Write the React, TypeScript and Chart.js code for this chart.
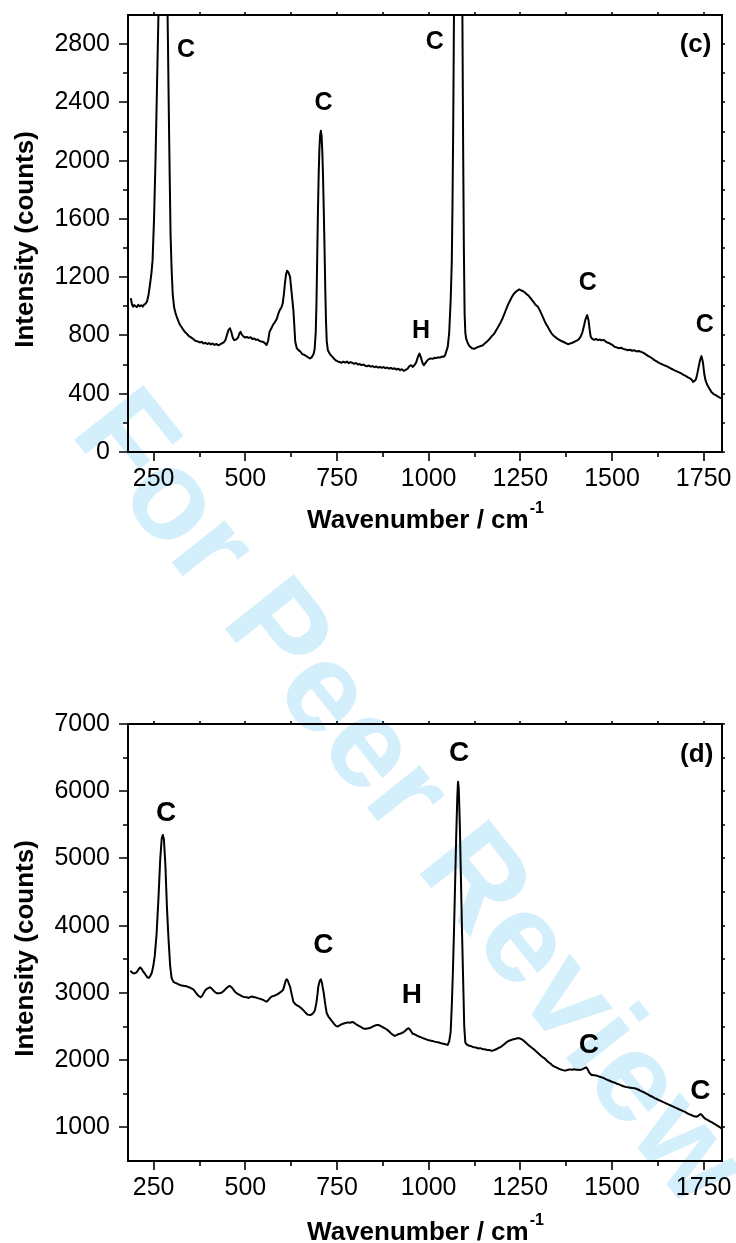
import React, { useEffect, useRef } from "react";
import { Chart, registerables } from "chart.js";

Chart.register(...registerables);

const SANS = '"Liberation Sans", Arial, Helvetica, sans-serif';
const INK = "#000000";

// ---- Raman spectrum, panel (c) ----
const shiftC = [
  188, 191, 194, 197, 200, 204, 208, 212, 216, 220,
  224, 228, 232, 236, 240, 244, 247, 251, 255, 259,
  263, 268, 272, 276, 280, 284, 288, 292, 296, 299,
  302, 306, 310, 314, 318, 322, 326, 331, 336, 341,
  346, 351, 356, 361, 366, 371, 376, 381, 386, 391,
  396, 401, 406, 411, 416, 421, 426, 431, 436, 441,
  446, 450, 454, 458, 462, 466, 470, 475, 480, 484,
  487, 490, 494, 499, 504, 509, 514, 519, 524, 529,
  534, 539, 544, 549, 554, 558, 562, 566, 571, 576,
  581, 586, 590, 594, 598, 602, 605, 608, 611, 614,
  617, 622, 626, 631, 634, 636, 640, 645, 650, 655,
  660, 665, 670, 676, 681, 686, 689, 692, 694, 696,
  698, 700, 702, 704, 706, 708, 710, 712, 714, 716,
  718, 720, 722, 725, 729,
  732, 737, 742, 747, 752, 757, 762, 767, 772, 777,
  782, 787, 792, 797, 802, 807, 812, 817, 822, 827,
  832, 837, 842, 847, 852, 857, 862, 867, 872, 877,
  882, 887, 892, 897, 902, 907, 912, 917, 922, 927,
  932, 937, 942, 947, 952, 957, 962, 966, 970, 975,
  979, 983, 987, 991, 996, 1001, 1006, 1011, 1016, 1021,
  1026, 1031, 1036, 1041, 1045, 1048, 1052, 1056, 1060, 1063,
  1065, 1067, 1069, 1072, 1076, 1080, 1084, 1088, 1092, 1094,
  1096, 1098, 1100,
  1102, 1107, 1112, 1118, 1124, 1130, 1136, 1142, 1148, 1154,
  1160, 1166, 1172, 1178, 1184, 1190, 1196, 1202, 1207, 1212,
  1217, 1222, 1227, 1232, 1237, 1242, 1247, 1252, 1257, 1262,
  1267, 1271, 1276, 1281, 1286, 1291, 1298, 1304, 1310, 1316,
  1321, 1325, 1330, 1335, 1340, 1345, 1350, 1356, 1362, 1368,
  1374, 1380, 1386, 1392, 1398, 1404, 1410, 1415, 1419, 1423,
  1427, 1432, 1436, 1439, 1442, 1447, 1452, 1457, 1462, 1467,
  1472, 1477, 1482, 1487, 1492, 1497, 1502, 1507, 1513, 1519,
  1525, 1531, 1537, 1543, 1549, 1555, 1561, 1567, 1573, 1580,
  1586, 1592, 1598, 1604, 1610, 1616, 1622, 1628, 1634, 1640,
  1646, 1653, 1659, 1665, 1671, 1677, 1683, 1689, 1695, 1701,
  1707, 1713, 1718, 1721, 1725, 1729, 1732, 1736, 1740, 1744,
  1748, 1752, 1755, 1759, 1765, 1771, 1777, 1783, 1789, 1795,
  1800,
];
const countsC = [
  1050, 1012, 998, 1008, 1002, 995, 1010, 1000, 1008, 998,
  1012, 1018, 1035, 1080, 1150, 1230, 1317, 1600, 2000, 2500,
  3000, 3700, 4200, 4400, 4200, 3700, 3000, 2200, 1500, 1250,
  1080, 990, 950, 920, 895, 872, 858, 838, 822, 810,
  796, 788, 780, 768, 762, 758, 752, 756, 745, 750,
  741, 748, 738, 745, 735, 742, 733, 738, 745, 752,
  770, 805, 838, 850, 822, 782, 768, 772, 785, 815,
  825, 808, 795, 786, 790, 783, 788, 776, 779, 770,
  772, 762, 758, 756, 745, 735, 762, 825, 850, 875,
  893, 915, 950, 975, 990, 1020, 1080, 1157, 1220, 1244,
  1235, 1203, 1100, 974, 850, 760, 715, 699, 690, 672,
  668, 660, 652, 642, 650, 672, 705, 820, 1020, 1330,
  1650, 1900, 2080, 2175, 2205, 2170, 2060, 1880, 1650, 1400,
  1120, 900, 760, 700, 680,
  668, 655, 640, 628, 622, 618, 612, 620, 614, 621,
  610, 617, 612, 606, 611, 600, 604, 596, 601, 592,
  588, 594, 586, 590, 582, 587, 580, 584, 578, 583,
  575, 580, 572, 578, 570, 575, 566, 572, 562, 568,
  557, 563, 570, 588, 596, 584, 600, 615, 648, 676,
  648, 612, 596, 610, 628, 638, 642, 640, 647, 645,
  650, 648, 655, 653, 665, 690, 722, 820, 1043, 1300,
  1700, 2250, 3000, 5000, 8000, 9000, 8000, 5200, 3000, 2100,
  1400, 950, 820,
  780, 745, 725, 712, 708, 716, 722, 728, 733, 748,
  760, 776, 795, 810, 835, 862, 888, 920, 951, 985,
  1015, 1040, 1065, 1085, 1098, 1108, 1116, 1110, 1104, 1096,
  1084, 1077, 1062, 1046, 1030, 1012, 997, 968, 935, 900,
  875, 859, 835, 815, 800, 790, 780, 770, 762, 755,
  748, 740, 745, 750, 757, 765, 775, 795, 820, 859,
  905, 940, 905, 840, 790, 775, 770, 776, 768, 772,
  766, 770, 760, 752, 748, 740, 733, 722, 718, 712,
  716, 708, 704, 699, 702, 695, 698, 690, 693, 687,
  680, 670, 660, 652, 642, 630, 622, 612, 605, 598,
  592, 584, 575, 568, 560, 553, 547, 539, 530, 522,
  512, 505, 495, 481, 488, 500, 530, 580, 630, 658,
  615, 530, 493, 465, 438, 412, 398, 390, 380, 372,
  367,
];

// ---- Raman spectrum, panel (d) ----
const shiftD = [
  188, 192, 196, 200, 204, 208, 213, 217, 221, 225,
  229, 233, 237, 241, 245, 249, 253, 258, 263, 268,
  272, 275, 278, 282, 286, 290, 295, 299, 304, 309,
  314, 319, 324, 329, 334, 339, 344, 349, 354, 359,
  364, 369, 374, 378, 382, 386, 390, 395, 400, 404,
  409, 414, 419, 424, 429, 434, 439, 444, 449, 454,
  458, 463, 468, 473, 478, 483, 488, 493, 498, 504,
  509, 514, 519, 524, 529, 534, 539, 544, 549, 554,
  558, 563, 568, 573, 578, 583, 588, 593, 598, 603,
  607, 610, 613, 616, 619, 622, 626, 631, 636, 641,
  646, 651, 656, 661, 666, 671, 676, 681, 686, 690,
  694, 697, 699, 703, 706, 709, 711, 714, 718, 722,
  727, 732, 737, 742, 747, 751, 756, 761, 766, 771,
  776, 781, 786, 791, 796, 801, 806, 811, 816, 821,
  826, 831, 836, 841, 846, 851, 856, 862, 867, 872,
  877, 882, 887, 892, 897, 902, 907, 912, 917, 922,
  927, 932, 937, 941, 945, 949, 953, 957, 962, 967,
  972, 977, 982, 987, 992, 998, 1004, 1010, 1016, 1022,
  1028, 1034, 1040, 1046, 1052, 1056, 1060, 1063, 1066, 1069,
  1072, 1075, 1078, 1080, 1082, 1085, 1088, 1091, 1094, 1097,
  1100, 1105, 1111, 1117, 1123, 1129, 1135, 1141, 1147, 1152,
  1158, 1164, 1170, 1175, 1181, 1187, 1193, 1198, 1204, 1210,
  1216, 1221, 1225, 1231, 1237, 1243, 1248, 1253, 1258, 1263,
  1268, 1273, 1278, 1283, 1289, 1295, 1301, 1307, 1312, 1316,
  1321, 1327, 1333, 1338, 1343, 1349, 1355, 1361, 1366, 1371,
  1376, 1381, 1386, 1391, 1396, 1401, 1406, 1411, 1416, 1421,
  1426, 1430, 1434, 1438, 1444, 1450, 1456, 1462, 1467, 1471,
  1477, 1483, 1489, 1495, 1501, 1507, 1513, 1519, 1525, 1531,
  1537, 1543, 1549, 1555, 1562, 1568, 1574, 1580, 1586, 1592,
  1598, 1604, 1610, 1616, 1622, 1628, 1634, 1640, 1646, 1652,
  1658, 1664, 1670, 1676, 1682, 1688, 1694, 1698, 1704, 1710,
  1716, 1722, 1727, 1731, 1735, 1739, 1742, 1746, 1750, 1753,
  1758, 1764, 1770, 1776, 1780, 1786, 1792, 1798, 1800,
];
const countsD = [
  3320, 3300, 3290, 3296, 3310, 3345, 3380, 3360, 3320, 3295,
  3260, 3230, 3225, 3255, 3300, 3400, 3550, 3880, 4400, 5000,
  5300, 5350, 5280, 4900, 4300, 3850, 3400, 3220, 3165, 3150,
  3140, 3125, 3115, 3108, 3104, 3100, 3088, 3080, 3065, 3050,
  3010, 2975, 2950, 2936, 2955, 2995, 3034, 3060, 3075, 3084,
  3060, 3030, 3005, 2992, 2995, 3000, 3020, 3045, 3075, 3095,
  3104, 3080, 3045, 3010, 2990, 2975, 2960, 2945, 2938, 2936,
  2925, 2940, 2948, 2936, 2932, 2922, 2915, 2905, 2896, 2878,
  2870, 2895, 2930, 2950, 2955, 2968, 2980, 3000, 3020, 3045,
  3120, 3180, 3204, 3180, 3130, 3094, 2990, 2870, 2835, 2815,
  2800, 2780, 2755, 2725, 2695, 2675, 2672, 2680, 2705, 2747,
  2860, 2990, 3094, 3180, 3204, 3150, 3080, 2995, 2830, 2698,
  2645, 2610, 2575, 2540, 2510, 2500, 2515, 2530, 2542, 2550,
  2558, 2562, 2555, 2568, 2560, 2538, 2520, 2505, 2490, 2474,
  2465, 2470, 2474, 2482, 2495, 2508, 2520, 2524, 2515, 2500,
  2482, 2470, 2450, 2428, 2400, 2380, 2360, 2372, 2385, 2392,
  2405, 2418, 2440, 2465, 2474, 2455, 2420, 2390, 2385, 2370,
  2355, 2345, 2332, 2322, 2312, 2300, 2292, 2285, 2276, 2268,
  2262, 2251, 2245, 2236, 2226, 2280, 2420, 2800, 3300, 3900,
  4600, 5300, 5900, 6140, 6050, 5500, 4700, 3900, 3200, 2500,
  2260, 2228, 2215, 2205, 2192, 2188, 2175, 2178, 2165, 2162,
  2155, 2150, 2142, 2141, 2155, 2170, 2188, 2201, 2228, 2255,
  2280, 2292, 2300, 2310, 2318, 2328, 2325, 2312, 2295, 2270,
  2245, 2220, 2200, 2178, 2152, 2120, 2090, 2060, 2040, 2028,
  2000, 1970, 1945, 1920, 1903, 1888, 1872, 1860, 1852, 1844,
  1850, 1858, 1862, 1856, 1864, 1860, 1858, 1854, 1858, 1870,
  1885, 1894, 1860, 1815, 1780, 1776, 1772, 1762, 1752, 1745,
  1735, 1718, 1704, 1690, 1676, 1665, 1650, 1640, 1626, 1612,
  1602, 1596, 1590, 1586, 1582, 1570, 1556, 1540, 1525, 1506,
  1490, 1470, 1456, 1436, 1422, 1406, 1392, 1376, 1362, 1346,
  1332, 1316, 1302, 1286, 1270, 1256, 1242, 1234, 1214, 1198,
  1184, 1170, 1162, 1159, 1170, 1190, 1199, 1180, 1150, 1135,
  1118, 1100, 1082, 1064, 1050, 1030, 1010, 987, 982,
];

// ---- Axis ticks (cm-1 and counts) ----
const xMajor = [250, 500, 750, 1000, 1250, 1500, 1750];
const xMinor = [375, 625, 875, 1125, 1375, 1625];
const yMajorC = [0, 400, 800, 1200, 1600, 2000, 2400, 2800];
const yMinorC = [200, 600, 1000, 1400, 1800, 2200, 2600];
const yMajorD = [1000, 2000, 3000, 4000, 5000, 6000, 7000];
const yMinorD = [1500, 2500, 3500, 4500, 5500, 6500];

// ---- Band assignments (C / H) and panel tags ----
const bandTextC = ["C", "C", "C", "H", "C", "C", "(c)"];
const bandXC = [338, 713, 1017, 979, 1434, 1753, 1728];
const bandYC = [2761, 2393, 2812, 827, 1157, 871, 2795];
const bandTextD = ["C", "C", "C", "H", "C", "C", "(d)"];
const bandXD = [284, 713, 1083, 954, 1437, 1741, 1731];
const bandYD = [5668, 3702, 6571, 2970, 2226, 1531, 6546];

type Panel = {
  top: number;
  height: number;
  padTop: number;
  axisH: number;
  yMin: number;
  yMax: number;
  xs: number[];
  ys: number[];
  yMajor: number[];
  yMinor: number[];
  bandText: string[];
  bandX: number[];
  bandY: number[];
  bandSize: number;
  tagSize: number;
  xTitleDrop: number;
};

const panelC: Panel = {
  top: 0,
  height: 560,
  padTop: 15,
  axisH: 108,
  yMin: 0,
  yMax: 3000,
  xs: shiftC,
  ys: countsC,
  yMajor: yMajorC,
  yMinor: yMinorC,
  bandText: bandTextC,
  bandX: bandXC,
  bandY: bandYC,
  bandSize: 25,
  tagSize: 26,
  xTitleDrop: 76,
};

const panelD: Panel = {
  top: 600,
  height: 643,
  padTop: 124,
  axisH: 82,
  yMin: 500,
  yMax: 7000,
  xs: shiftD,
  ys: countsD,
  yMajor: yMajorD,
  yMinor: yMinorD,
  bandText: bandTextD,
  bandX: bandXD,
  bandY: bandYD,
  bandSize: 28,
  tagSize: 26,
  xTitleDrop: 79,
};

// Box frame, Origin-style tick marks, axis titles and band labels
function makeFramePlugin(p: Panel) {
  return {
    id: "spectrumFrame",
    afterDatasetsDraw(chart: any) {
      const { ctx, chartArea: a, scales } = chart;
      const sx = scales.x;
      const sy = scales.y;
      ctx.save();
      ctx.strokeStyle = INK;
      ctx.lineWidth = 2;
      ctx.strokeRect(a.left, a.top, a.right - a.left, a.bottom - a.top);

      ctx.lineWidth = 1.6;
      ctx.beginPath();
      const seg = (x1: number, y1: number, x2: number, y2: number) => {
        ctx.moveTo(x1, y1);
        ctx.lineTo(x2, y2);
      };
      const px = (v: number) => Math.round(sx.getPixelForValue(v));
      const py = (v: number) => Math.round(sy.getPixelForValue(v));
      xMajor.forEach((v) => seg(px(v), a.bottom, px(v), a.bottom + 9));
      xMinor.forEach((v) => seg(px(v), a.bottom, px(v), a.bottom + 5));
      [...xMajor, ...xMinor].forEach((v) => seg(px(v), a.top, px(v), a.top - 3));
      p.yMajor.forEach((v) => seg(a.left, py(v), a.left - 9, py(v)));
      p.yMinor.forEach((v) => seg(a.left, py(v), a.left - 5, py(v)));
      [...p.yMajor, ...p.yMinor].forEach((v) => seg(a.right, py(v), a.right + 3, py(v)));
      ctx.stroke();

      // band labels
      ctx.fillStyle = INK;
      ctx.textAlign = "center";
      ctx.textBaseline = "middle";
      p.bandText.forEach((t, i) => {
        const size = t.startsWith("(") ? p.tagSize : p.bandSize;
        ctx.font = `bold ${size}px ${SANS}`;
        ctx.fillText(t, sx.getPixelForValue(p.bandX[i]), sy.getPixelForValue(p.bandY[i]));
      });

      // y title
      ctx.save();
      ctx.font = `bold 26px ${SANS}`;
      ctx.translate(33, (a.top + a.bottom) / 2 + 6);
      ctx.rotate(-Math.PI / 2);
      ctx.textAlign = "center";
      ctx.textBaseline = "alphabetic";
      ctx.fillText("Intensity (counts)", 0, 0);
      ctx.restore();

      // x title with superscript
      const main = "Wavenumber / cm";
      const sup = "-1";
      ctx.textAlign = "left";
      ctx.textBaseline = "alphabetic";
      ctx.font = `bold 26px ${SANS}`;
      const wMain = ctx.measureText(main).width;
      ctx.font = `bold 16px ${SANS}`;
      const wSup = ctx.measureText(sup).width;
      const start = (a.left + a.right) / 2 - (wMain + wSup) / 2;
      const base = a.bottom + p.xTitleDrop;
      ctx.font = `bold 26px ${SANS}`;
      ctx.fillText(main, start, base);
      ctx.font = `bold 16px ${SANS}`;
      ctx.fillText(sup, start + wMain + 1, base - 15);
      ctx.restore();
    },
  };
}

// scales should not reserve extra room for overhanging tick labels
const noOverhang = (s: any) => {
  s.paddingTop = 0;
  s.paddingBottom = 0;
  s.paddingLeft = 0;
  s.paddingRight = 0;
};

function SpectrumPanel({ p }: { p: Panel }) {
  const ref = useRef<HTMLCanvasElement | null>(null);
  useEffect(() => {
    if (!ref.current) return;
    const chart = new Chart(ref.current, {
      type: "line",
      data: {
        datasets: [
          {
            data: p.xs.map((x, i) => ({ x, y: p.ys[i] })),
            borderColor: INK,
            borderWidth: 2,
            borderJoinStyle: "round",
            borderCapStyle: "round",
            pointRadius: 0,
            // a vanishing tension keeps every segment straight while
            // avoiding the per-pixel-column fast path for dense points
            tension: 0.0001,
            fill: false,
          },
        ],
      },
      options: {
        responsive: false,
        animation: false,
        events: [],
        layout: { padding: { top: p.padTop, right: 14, left: 0, bottom: 0 } },
        plugins: { legend: { display: false }, tooltip: { enabled: false } },
        scales: {
          x: {
            type: "linear",
            position: "bottom",
            min: 180,
            max: 1800,
            afterBuildTicks: (s: any) => {
              s.ticks = xMajor.map((v) => ({ value: v }));
            },
            afterFit: (s: any) => {
              s.height = p.axisH;
              noOverhang(s);
            },
            grid: { display: false, drawTicks: false },
            border: { display: false },
            ticks: {
              color: INK,
              font: { family: SANS, size: 25 },
              padding: 12,
              maxRotation: 0,
              autoSkip: false,
              callback: (v: any) => String(v),
            },
          },
          y: {
            type: "linear",
            position: "left",
            min: p.yMin,
            max: p.yMax,
            afterBuildTicks: (s: any) => {
              s.ticks = p.yMajor.map((v) => ({ value: v }));
            },
            afterFit: (s: any) => {
              s.width = 128;
              noOverhang(s);
            },
            grid: { display: false, drawTicks: false },
            border: { display: false },
            ticks: {
              color: INK,
              font: { family: SANS, size: 25 },
              padding: 18,
              autoSkip: false,
              callback: (v: any) => String(v),
            },
          },
        },
      } as any,
      plugins: [makeFramePlugin(p)],
    });
    return () => chart.destroy();
  }, [p]);
  return (
    <canvas
      ref={ref}
      width={736}
      height={p.height}
      style={{ position: "absolute", left: 0, top: p.top, width: 736, height: p.height }}
    />
  );
}

function Watermark() {
  const ref = useRef<HTMLCanvasElement | null>(null);
  useEffect(() => {
    const c = ref.current?.getContext("2d");
    if (!c) return;
    c.clearRect(0, 0, 736, 1243);
    c.save();
    c.translate(69, 433);
    c.rotate((51.5 * Math.PI) / 180);
    c.font = `bold 128px ${SANS}`;
    c.fillStyle = "#d4effc";
    c.textBaseline = "alphabetic";
    c.fillText("For Peer Review", 0, 0);
    c.restore();
  }, []);
  return (
    <canvas
      ref={ref}
      width={736}
      height={1243}
      style={{ position: "absolute", left: 0, top: 0, width: 736, height: 1243 }}
    />
  );
}

export default function App() {
  return (
    <div
      style={{
        position: "absolute",
        left: 0,
        top: 0,
        width: 736,
        height: 1243,
        background: "#ffffff",
        overflow: "hidden",
      }}
    >
      <Watermark />
      <SpectrumPanel p={panelC} />
      <SpectrumPanel p={panelD} />
    </div>
  );
}
